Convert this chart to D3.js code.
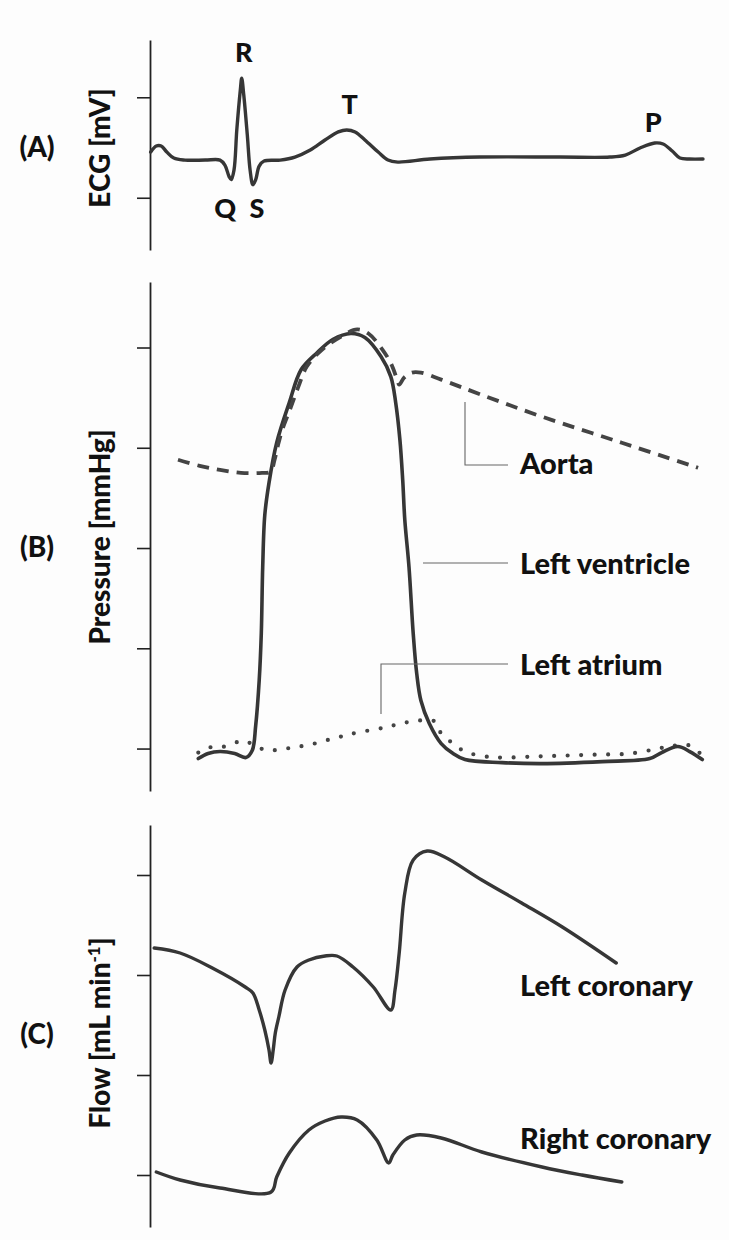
<!DOCTYPE html>
<html>
<head>
<meta charset="utf-8">
<script src="https://cdn.jsdelivr.net/npm/d3@7"></script>
<style>
  html, body { margin: 0; padding: 0; background: #fdfdfd; }
  svg { display: block; }
  text { font-family: Lato, "Open Sans", sans-serif; font-weight: 900; fill: #111; }
</style>
</head>
<body>
<script>
// Cardiac cycle: ECG, pressures and coronary flow on a shared time axis (ms)

// (A) ECG
const ecgTime = [1, 9, 16, 24, 34, 50, 79, 100, 107, 113, 116, 120, 124, 129, 131, 134, 139, 143, 147, 151, 156, 163, 186, 207, 229, 250, 269, 281, 293, 307, 326, 340, 354, 400, 471, 586, 657, 679, 700, 721, 733, 746, 757, 771, 790];
const ecgMv   = [-0.09, 0.03, 0.03, -0.09, -0.21, -0.25, -0.25, -0.25, -0.35, -0.58, -0.64, -0.45, 0.35, 1.14, 1.38, 1.04, 0.25, -0.45, -0.74, -0.64, -0.37, -0.27, -0.25, -0.19, -0.05, 0.15, 0.31, 0.35, 0.31, 0.15, -0.09, -0.25, -0.29, -0.23, -0.19, -0.19, -0.19, -0.15, -0.01, 0.09, 0.07, -0.07, -0.21, -0.23, -0.23];
const ecgTicks = [-1, 1];
const ecgWaves = ["R", "T", "P", "Q", "S"];
const ecgWaveTimes = [131, 281, 723, 116, 147];

// (B) Pressures (mmHg)
const lvTime = [69, 83, 100, 121, 137, 146, 151, 156, 159, 161, 164, 170, 181, 199, 216, 239, 261, 287, 307, 330, 344, 351, 357, 361, 364, 370, 376, 381, 387, 399, 416, 433, 450, 503, 560, 646, 714, 731, 754, 771, 789];
const lvPressure = [-3.0, -1.5, -0.9, -1.5, -2.7, -0.6, 6.9, 20.4, 34.5, 54.3, 69.9, 79.5, 91.5, 103.5, 113.4, 118.5, 122.4, 124.2, 123.0, 117.3, 111.3, 103.5, 92.4, 80.4, 68.4, 54.3, 34.5, 22.5, 14.4, 7.5, 1.5, -1.5, -3.3, -4.2, -4.5, -3.9, -3.0, -1.2, 0.6, -0.9, -3.3];

const aoTime = [40, 71, 100, 130, 160, 172, 178, 183, 189, 201, 212, 224, 246, 273, 296, 312, 332, 345, 353, 356, 363, 374, 387, 416, 473, 560, 674, 783];
const aoPressure = [86.4, 84.6, 83.4, 82.5, 82.5, 82.8, 86.4, 90.9, 95.4, 102.0, 108.3, 114.3, 119.4, 123.3, 125.4, 124.2, 119.4, 114.9, 110.4, 108.9, 111.0, 112.5, 112.5, 110.4, 105.9, 99.3, 91.5, 84.0];

const laTime = [69, 83, 100, 119, 133, 150, 167, 184, 204, 221, 241, 261, 279, 296, 321, 341, 359, 384, 407, 416, 433, 450, 480, 503, 549, 594, 640, 686, 726, 749, 771, 786];
const laPressure = [-1.2, 0.3, 0.3, 1.5, 2.4, 0.9, -0.6, -0.3, 0.3, 0.9, 1.8, 3.0, 3.9, 4.8, 5.7, 6.6, 7.5, 8.4, 8.1, 4.5, 1.5, -0.9, -2.4, -2.7, -2.4, -2.1, -1.8, -1.5, 0.0, 0.9, 0.9, -1.5];
const pressureTicks = [0, 30, 60, 90, 120];

// (C) Coronary flow (mL/min)
const lcaTime = [6, 43, 89, 136, 147, 156, 164, 170, 173, 176, 179, 184, 193, 210, 227, 250, 267, 290, 319, 344, 350, 356, 364, 376, 396, 421, 474, 531, 589, 666];
const lcaFlow = [113.5, 111.0, 103.5, 94.0, 91.0, 82.5, 72.5, 62.5, 56.0, 62.5, 71.0, 79.0, 92.5, 104.0, 107.5, 109.5, 109.5, 104.0, 94.0, 82.5, 92.5, 111.0, 141.0, 157.5, 162.0, 159.0, 147.5, 136.0, 124.0, 106.0];

const rcaTime = [9, 43, 100, 173, 181, 199, 227, 250, 273, 296, 324, 341, 347, 364, 381, 416, 474, 560, 617, 674];
const rcaFlow = [1.5, -2.5, -6.5, -8.5, -1.0, 11.0, 22.5, 27.0, 29.0, 27.5, 17.5, 6.0, 10.0, 17.5, 20.0, 18.5, 11.5, 4.0, 0.0, -3.5];
const flowTicks = [0, 50, 100, 150];

const W = 729, H = 1240;
const svg = d3.select("body").append("svg").attr("width", W).attr("height", H);
svg.append("rect").attr("width", W).attr("height", H).attr("fill", "#fdfdfd");

const x = d3.scaleLinear().domain([0, 800]).range([150, 710]);
const yEcg = d3.scaleLinear().domain([-2.04, 2.14]).range([250, 40]);
const yP = d3.scaleLinear().domain([-12.7, 139.6]).range([791, 282]);
const yF = d3.scaleLinear().domain([-26, 175]).range([1227, 825]);

const traceColor = "#363636";
const curve = d3.curveCatmullRom.alpha(0.5);

function drawAxis(scale, ticks) {
  const g = svg.append("g")
    .attr("transform", `translate(${x(0)},0)`)
    .call(d3.axisLeft(scale).tickValues(ticks).tickSize(13).tickSizeOuter(0).tickFormat(""));
  g.selectAll("path.domain").attr("stroke", "#222").attr("stroke-width", 1.8);
  g.selectAll(".tick line").attr("stroke", "#222").attr("stroke-width", 1.6);
}

function trace(times, values, yScale) {
  const pts = times.map((t, i) => [t, values[i]]);
  return svg.append("path")
    .datum(pts)
    .attr("fill", "none")
    .attr("stroke", traceColor)
    .attr("stroke-linejoin", "round")
    .attr("stroke-linecap", "round")
    .attr("d", d3.line().x(d => x(d[0])).y(d => yScale(d[1])).curve(curve));
}

function axisTitle(cx, cy, parts) {
  const t = svg.append("text")
    .attr("transform", `translate(${cx},${cy}) rotate(-90)`)
    .attr("text-anchor", "middle")
    .attr("font-size", 28);
  parts.forEach(p => {
    const s = t.append("tspan").text(p.text);
    if (p.sup) s.attr("baseline-shift", "super").attr("font-size", 17);
  });
  return t;
}

function panelLabel(cx, cy, txt) {
  svg.append("text").attr("x", cx).attr("y", cy)
    .attr("text-anchor", "middle").attr("font-size", 28).text(txt);
}

function seriesLabel(px, py, txt) {
  svg.append("text").attr("x", px).attr("y", py).attr("font-size", 29).text(txt);
}

function leader(points) {
  svg.append("path")
    .attr("d", d3.line()(points))
    .attr("fill", "none").attr("stroke", "#666").attr("stroke-width", 1.1);
}

// ---- Panel A: ECG ----
drawAxis(yEcg, ecgTicks);
trace(ecgTime, ecgMv, yEcg).attr("stroke-width", 3.4);
axisTitle(110, 148, [{ text: "ECG [mV]" }]);
panelLabel(37, 157, "(A)");

const waveOffsets = { R: [2, -16], T: [3, -16], P: [-3, -11], Q: [-6, 38], S: [4, 33] };
ecgWaves.forEach((w, i) => {
  const t = ecgWaveTimes[i];
  const j = d3.minIndex(ecgTime, d => Math.abs(d - t));
  const [dx, dy] = waveOffsets[w];
  svg.append("text")
    .attr("x", x(t) + dx).attr("y", yEcg(ecgMv[j]) + dy)
    .attr("text-anchor", "middle").attr("font-size", 27).text(w);
});

// ---- Panel B: Pressure ----
drawAxis(yP, pressureTicks);
trace(laTime, laPressure, yP)
  .attr("stroke", "#444").attr("stroke-width", 4.2)
  .attr("stroke-dasharray", "0 13.5");
trace(lvTime, lvPressure, yP).attr("stroke-width", 3.6);
trace(aoTime, aoPressure, yP)
  .attr("stroke", "#444").attr("stroke-width", 3.8)
  .attr("stroke-linecap", "butt")
  .attr("stroke-dasharray", "12 8");
axisTitle(110, 537, [{ text: "Pressure [mmHg]" }]);
panelLabel(37, 557, "(B)");

leader([[465, 402], [465, 465], [508, 465]]);
leader([[423, 563], [508, 563]]);
leader([[381, 714], [381, 664], [508, 664]]);
seriesLabel(520, 474, "Aorta");
seriesLabel(520, 574, "Left ventricle");
seriesLabel(520, 675, "Left atrium");

// ---- Panel C: Coronary flow ----
drawAxis(yF, flowTicks);
trace(lcaTime, lcaFlow, yF).attr("stroke-width", 3.4);
trace(rcaTime, rcaFlow, yF).attr("stroke-width", 3.4);
axisTitle(110, 1033, [{ text: "Flow [mL min" }, { text: "-1", sup: true }, { text: "]" }]);
panelLabel(37, 1044, "(C)");
seriesLabel(520, 996, "Left coronary");
seriesLabel(520, 1149, "Right coronary");
</script>
</body>
</html>
